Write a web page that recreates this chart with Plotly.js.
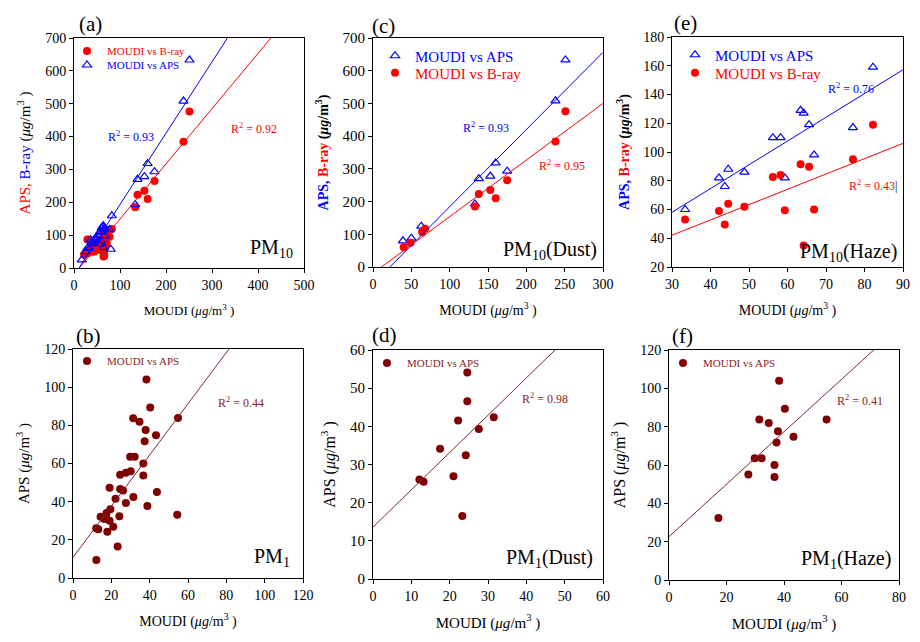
<!DOCTYPE html>
<html><head><meta charset="utf-8">
<script src="https://cdn.plot.ly/plotly-3.0.1.min.js"></script>
<style>html,body{margin:0;padding:0;background:#fff}#chart{width:920px;height:642px}</style>
</head><body><div id="chart"></div>
<script>
// ---------------- DATA ----------------
// PM10, dust days (panel c)
const dustMoudiAPS10 = [39, 50, 63, 133, 138, 153, 160, 175, 238, 251];
const dustAPS10      = [80, 88, 125, 193, 270, 278, 318, 293, 508, 633];
const dustMoudiBray10 = [40, 49, 64, 68, 133, 138, 153, 160, 175, 238, 251];
const dustBray10      = [60, 74, 107, 117, 185, 223, 235, 210, 265, 384, 476];
// PM10, haze days (panel e)
const hazeMoudi10 = [33.4, 42.2, 43.7, 44.6, 48.8, 56.2, 58.2, 59.3, 63.4, 64.2, 65.6, 66.9, 77.0, 82.2];
const hazeAPS10   = [60, 82, 76, 88, 86, 110, 110, 82, 129, 127, 119, 98, 117, 159];
const hazeBray10  = [53, 59, 49.5, 64, 62, 82.6, 84, 59.5, 91.4, 35, 89.8, 60, 95, 119];
// PM10, other days (only in panel a)
const otherMoudiAPS10 = [17, 25, 29, 36, 48, 55, 60, 62, 68, 64, 80];
const otherAPS10      = [25, 50, 60, 86, 92, 73, 121, 110, 116, 63, 57];
const otherMoudiBray10 = [22, 29, 30, 38, 45.6, 49, 56.5, 65, 66, 71];
const otherBray10      = [40, 87, 45, 50, 55, 68, 55, 45, 38, 75];
// PM1, dust days (panel d)
const dustMoudi1 = [12.1, 13.2, 17.5, 21.0, 22.2, 23.3, 24.2, 24.6, 24.6, 27.6, 31.5];
const dustAPS1   = [26.1, 25.5, 34.1, 26.9, 41.5, 16.5, 32.4, 54.1, 46.6, 39.3, 42.4];
// PM1, haze days (panel f)
const hazeMoudi1 = [17.2, 27.6, 29.8, 32.2, 31.4, 34.7, 36.7, 36.7, 37.4, 37.9, 38.3, 40.3, 43.3, 54.8];
const hazeAPS1   = [32.3, 55.1, 63.5, 63.5, 83.7, 81.9, 53.7, 60, 71.7, 77.6, 104, 89.4, 74.8, 83.8];
// PM1, other days (only in panel b)
const otherMoudi1 = [30.1, 19.1, 26.1, 43.8, 38.8, 19.5, 14.4, 16.2, 19.1, 17.9, 12.2, 54.4];
const otherAPS1   = [55.9, 47.3, 45.8, 45.1, 37.7, 36, 32.1, 30.9, 30, 24.3, 9.4, 33.1];
// Linear fits: panel a (B-ray, APS), c (APS, B-ray), e (APS, B-ray), b, d, f
const fitPanels    = ['a', 'a', 'c', 'c', 'e', 'e', 'b', 'd', 'f'];
const fitSeries    = ['B-ray', 'APS', 'APS', 'B-ray', 'APS', 'B-ray', 'APS', 'APS', 'APS'];
const fitSlope     = [1.68, 2.17, 2.36, 1.73, 1.652, 1.065, 1.342, 0.977, 1.368];
const fitIntercept = [-18.9, -23.7, -51.8, -19.0, 8.5, 10.15, 10.8, 13.6, 22.6];
const fitR2        = ['0.92', '0.93', '0.93', '0.95', '0.76', '0.43', '0.44', '0.98', '0.41'];
// Axis ranges
const xRanges = {a: [0, 500], c: [0, 300], e: [30, 90], b: [0, 120], d: [0, 60], f: [0, 80]};
const yRanges = {a: [0, 700], c: [0, 700], e: [20, 180], b: [0, 120], d: [0, 60], f: [0, 120]};

// ---------------- BUILD ----------------
const W = 920, H = 642;
const px = v => v / W, py = v => 1 - v / H;
const RED = '#ff0000', BLUE = '#0000ff', MAROON = '#800000', MLINE = '#7a2a2a', MTEXT = '#8b2525';
const FONT = 'Liberation Serif';
const axisId = {a: ['x', 'y'], c: ['x2', 'y2'], e: ['x3', 'y3'], b: ['x4', 'y4'], d: ['x5', 'y5'], f: ['x6', 'y6']};
const cat = (...arrs) => [].concat(...arrs);

const traces = [];
function pts(panel, x, y, kind, legendId, name, color) {
  const [xa, ya] = axisId[panel];
  traces.push({
    type: 'scatter', mode: 'markers', x, y, xaxis: xa, yaxis: ya,
    name, legend: legendId, showlegend: true, cliponaxis: true,
    marker: kind === 'tri'
      ? {symbol: 'triangle-up-open', size: 8, color: color, line: {width: 1.2, color: color}}
      : {symbol: 'circle', size: 8, color: color}
  });
}
// panel a
pts('a', cat(dustMoudiBray10, hazeMoudi10, otherMoudiBray10), cat(dustBray10, hazeBray10, otherBray10), 'dot', 'legend', 'MOUDI vs B-ray', RED);
pts('a', cat(dustMoudiAPS10, hazeMoudi10, otherMoudiAPS10), cat(dustAPS10, hazeAPS10, otherAPS10), 'tri', 'legend2', 'MOUDI vs APS', BLUE);
// panel c
pts('c', dustMoudiAPS10, dustAPS10, 'tri', 'legend3', 'MOUDI vs APS', BLUE);
pts('c', dustMoudiBray10, dustBray10, 'dot', 'legend4', 'MOUDI vs B-ray', RED);
// panel e
pts('e', hazeMoudi10, hazeAPS10, 'tri', 'legend5', 'MOUDI vs APS', BLUE);
pts('e', hazeMoudi10, hazeBray10, 'dot', 'legend6', 'MOUDI vs B-ray', RED);
// panels b d f
pts('b', cat(dustMoudi1, hazeMoudi1, otherMoudi1), cat(dustAPS1, hazeAPS1, otherAPS1), 'dot', 'legend7', 'MOUDI vs APS', MAROON);
pts('d', dustMoudi1, dustAPS1, 'dot', 'legend8', 'MOUDI vs APS', MAROON);
pts('f', hazeMoudi1, hazeAPS1, 'dot', 'legend9', 'MOUDI vs APS', MAROON);

// fit lines
fitPanels.forEach((p, i) => {
  const [xa, ya] = axisId[p];
  const xr = xRanges[p];
  const color = fitSeries[i] === 'B-ray' ? RED : (['b', 'd', 'f'].includes(p) ? MLINE : BLUE);
  traces.push({
    type: 'scatter', mode: 'lines', xaxis: xa, yaxis: ya, showlegend: false,
    x: xr, y: xr.map(v => fitSlope[i] * v + fitIntercept[i]),
    line: {color, width: 1}
  });
});

// ---------------- LAYOUT ----------------
const geom = {
  a: {x: [74, 304], y: [268, 38], dx: 100, dy: 100, tf: 14, yf: 14},
  c: {x: [373, 603], y: [267, 38], dx: 50, dy: 100, tf: 14, yf: 15},
  e: {x: [672, 903], y: [267, 37], dx: 10, dy: 20, tf: 14, yf: 14},
  b: {x: [73, 303], y: [578, 349], dx: 20, dy: 20, tf: 14, yf: 14},
  d: {x: [373, 603], y: [579, 350], dx: 10, dy: 10, tf: 14, yf: 15},
  f: {x: [669, 899], y: [580, 350], dx: 20, dy: 20, tf: 14, yf: 14}
};
const unit = '(<i>μg</i>/m<sup>3</sup> )';
const yTitles = {
  a: {text: '<span style="color:#ff0000">APS,</span> <span style="color:#0000ff">B-ray</span> ' + unit, size: 15},
  c: {text: '<b><span style="color:#0000ff">APS,</span> <span style="color:#ff0000">B-ray</span> (<i>μg</i>/m<sup>3</sup>)</b>', size: 14},
  e: {text: '<b><span style="color:#0000ff">APS,</span> <span style="color:#ff0000">B-ray</span> (<i>μg</i>/m<sup>3</sup>)</b>', size: 14},
  b: {text: 'APS ' + unit, size: 15},
  d: {text: 'APS ' + unit, size: 16},
  f: {text: 'APS ' + unit, size: 16}
};
const xTitleSize = {a: 13, c: 14, e: 14, b: 14, d: 15, f: 15};

const layout = {
  width: W, height: H, margin: {l: 0, r: 0, t: 0, b: 0},
  paper_bgcolor: '#fff', plot_bgcolor: '#fff',
  font: {family: FONT, color: '#000'},
  showlegend: true, annotations: []
};
const baseAxis = {
  showline: true, linecolor: '#000', linewidth: 1, mirror: true,
  ticks: 'outside', ticklen: 4, tickcolor: '#000', tickwidth: 1,
  showgrid: false, zeroline: false, automargin: false, fixedrange: true
};
Object.keys(geom).forEach(p => {
  const g = geom[p];
  const [xa, ya] = axisId[p];
  const xk = xa === 'x' ? 'xaxis' : 'xaxis' + xa.slice(1);
  const yk = ya === 'y' ? 'yaxis' : 'yaxis' + ya.slice(1);
  layout[xk] = Object.assign({}, baseAxis, {
    domain: [px(g.x[0]), px(g.x[1])], anchor: ya, range: xRanges[p], dtick: g.dx, tick0: 0,
    tickfont: {family: FONT, size: g.tf, color: '#000'},
    title: {text: 'MOUDI ' + unit, font: {family: FONT, size: xTitleSize[p], color: '#000'}, standoff: 14}
  });
  layout[yk] = Object.assign({}, baseAxis, {
    domain: [py(g.y[0]), py(g.y[1])], anchor: xa, range: yRanges[p], dtick: g.dy, tick0: 0,
    tickfont: {family: FONT, size: g.yf, color: '#000'},
    title: {text: yTitles[p].text, font: {family: FONT, size: yTitles[p].size, color: '#000'}, standoff: 10}
  });
});

// legends (one entry each, so rows can be placed like the original)
const legendPos = {
  legend: [67, 51, 11, RED], legend2: [67, 65, 11, BLUE],
  legend3: [375, 56, 15, BLUE], legend4: [375, 73, 15, RED],
  legend5: [675, 55, 15, BLUE], legend6: [675, 73, 15, RED],
  legend7: [67, 361, 11, MTEXT], legend8: [367, 363, 11, MTEXT], legend9: [663, 363, 11, MTEXT]
};
Object.keys(legendPos).forEach(k => {
  const [lx, ly, fs, col] = legendPos[k];
  layout[k] = {x: px(lx), y: py(ly), xanchor: 'left', yanchor: 'middle', bgcolor: 'rgba(0,0,0,0)',
    borderwidth: 0, font: {family: FONT, size: fs, color: col}, itemclick: false, itemdoubleclick: false};
});

// panel letters
const letters = [['(a)', 77, 24], ['(c)', 370, 26], ['(e)', 672, 23], ['(b)', 74, 336], ['(d)', 370, 335], ['(f)', 670, 336]];
letters.forEach(([t, x, y]) => layout.annotations.push({
  text: t, xref: 'paper', yref: 'paper', x: px(x), y: py(y), xanchor: 'left', yanchor: 'middle',
  showarrow: false, font: {family: FONT, size: 21, color: '#000'}
}));
// PM labels
const pmLabels = [
  ['a', 'PM<sub>10</sub>', 0.962, 0.085], ['c', 'PM<sub>10</sub>(Dust)', 0.983, 0.07], ['e', 'PM<sub>10</sub>(Haze)', 0.983, 0.065],
  ['b', 'PM<sub>1</sub>', 0.952, 0.09], ['d', 'PM<sub>1</sub>(Dust)', 0.965, 0.09], ['f', 'PM<sub>1</sub>(Haze)', 0.974, 0.09]
];
pmLabels.forEach(([p, t, x, y]) => {
  const [xa, ya] = axisId[p];
  layout.annotations.push({text: t, xref: xa + ' domain', yref: ya + ' domain', x, y,
    xanchor: 'right', yanchor: 'middle', showarrow: false, font: {family: FONT, size: 20, color: '#000'}});
});
// R² labels (data coordinates)
const r2Pos = [[391, 426], [124, 399], [147, 425], [246, 309], [76.5, 144.5], [82.2, 77], [87.6, 92.2], [44.9, 47.2], [66.4, 93.4]];
fitPanels.forEach((p, i) => {
  const [xa, ya] = axisId[p];
  const col = fitSeries[i] === 'B-ray' ? RED : (['b', 'd', 'f'].includes(p) ? MTEXT : BLUE);
  const extra = (p === 'e' && fitSeries[i] === 'B-ray') ? '<span style="color:#000">|</span>' : '';
  layout.annotations.push({text: 'R<sup>2</sup> = ' + fitR2[i] + extra, xref: xa, yref: ya, x: r2Pos[i][0], y: r2Pos[i][1],
    xanchor: 'center', yanchor: 'middle', showarrow: false, font: {family: FONT, size: 12, color: col}});
});

Plotly.newPlot('chart', traces, layout, {staticPlot: true, displayModeBar: false});
</script></body></html>
